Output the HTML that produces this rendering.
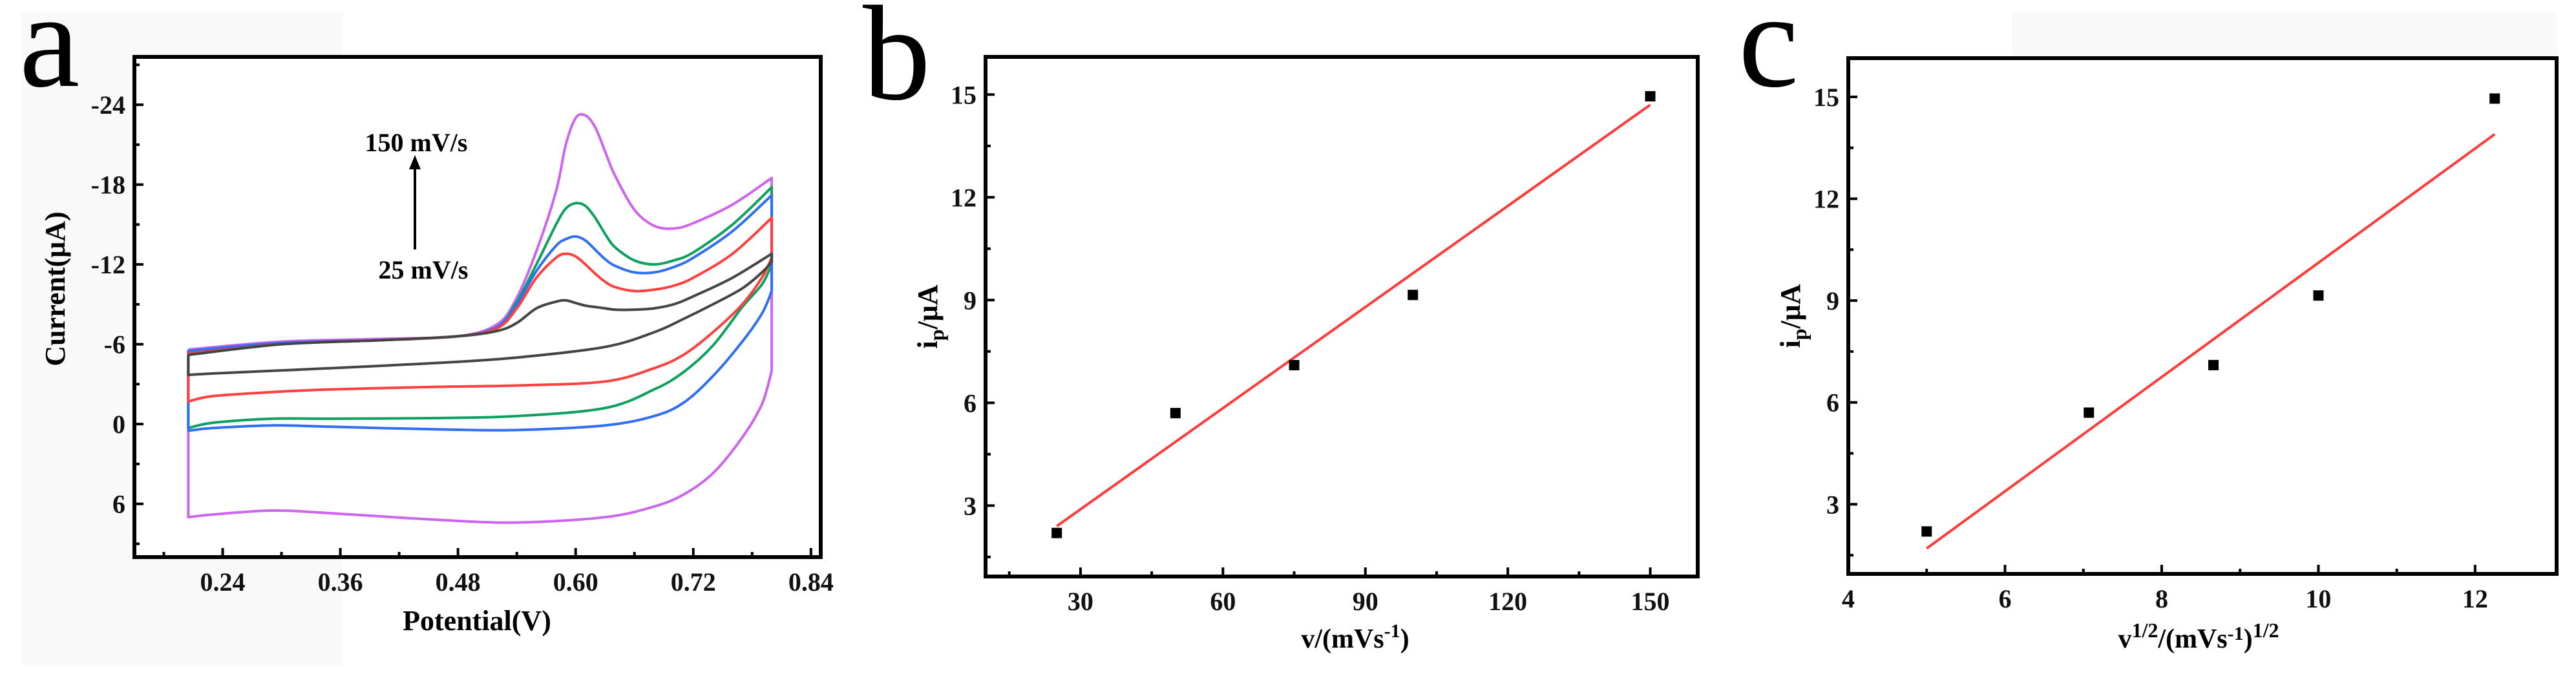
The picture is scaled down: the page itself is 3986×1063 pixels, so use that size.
<!DOCTYPE html>
<html><head><meta charset="utf-8">
<style>
html,body{margin:0;padding:0;background:#fff;}
svg{display:block;font-family:"Liberation Serif",serif;}
</style></head>
<body>
<svg id="fig" width="3986" height="1063" viewBox="0 0 3986 1063" xmlns="http://www.w3.org/2000/svg">
<rect x="0" y="0" width="3986" height="1063" fill="#fff"/>
<rect x="34" y="20" width="496" height="1010" fill="#f9f9f9"/>
<rect x="3114" y="20" width="842" height="70" fill="#f9f9f9"/>
<g id="root"></g>
</svg>
<script>
// ---------- Panel a data (CV curves) ----------
const cvForwardE = [0.205,0.30,0.40,0.48,0.52,0.54,0.56,0.58,0.59,0.60,0.61,0.62,0.63,0.64,0.66,0.68,0.70,0.72,0.76,0.80];
const cvReverseE = [0.80,0.79,0.77,0.74,0.71,0.68,0.63,0.54,0.46,0.35,0.29,0.23,0.205];
const scanLabels = ["25 mV/s","75 mV/s","100 mV/s","125 mV/s","150 mV/s"];
const scanColors = ["#444444","#ff4040","#2f6ff0","#0fa060","#cc66ee"];
const fwd25  = [-5.2,-6.0,-6.3,-6.6,-7.0,-7.6,-8.7,-9.2,-9.3,-9.1,-8.9,-8.8,-8.7,-8.6,-8.6,-8.7,-9.0,-9.6,-11.0,-12.8];
const fwd75  = [-5.3,-6.0,-6.3,-6.6,-7.2,-8.7,-11.0,-12.5,-12.8,-12.6,-12.0,-11.3,-10.7,-10.3,-10.0,-10.1,-10.4,-11.0,-12.8,-15.5];
const fwd100 = [-5.5,-6.1,-6.3,-6.6,-7.3,-9.0,-11.5,-13.4,-13.9,-14.1,-13.8,-13.1,-12.4,-11.9,-11.4,-11.4,-11.8,-12.5,-14.5,-17.2];
const fwd125 = [-5.2,-6.0,-6.3,-6.6,-7.3,-9.2,-12.0,-15.0,-16.2,-16.6,-16.4,-15.5,-14.3,-13.3,-12.3,-12.0,-12.3,-12.9,-15.0,-17.8];
const fwd150 = [-5.6,-6.2,-6.4,-6.6,-7.5,-9.5,-13.0,-17.5,-21.0,-23.0,-23.2,-22.3,-20.5,-18.7,-16.1,-14.9,-14.7,-15.1,-16.5,-18.5];
const rev25  = [-12.2,-11.4,-10.2,-9.0,-7.9,-6.9,-5.8,-5.0,-4.6,-4.2,-4.0,-3.8,-3.7];
const rev75  = [-12.5,-11.0,-9.0,-6.9,-5.2,-4.2,-3.2,-2.9,-2.8,-2.6,-2.4,-2.1,-1.7];
const rev100 = [-10.0,-8.3,-6.2,-3.6,-1.6,-0.6,0.1,0.45,0.4,0.2,0.1,0.3,0.5];
const rev125 = [-12.0,-10.5,-8.8,-5.9,-3.9,-2.6,-1.2,-0.6,-0.45,-0.4,-0.4,-0.1,0.3];
const rev150 = [-4.0,-1.5,1.0,3.7,5.3,6.2,7.0,7.4,7.2,6.7,6.5,6.8,7.0];
const aXTicks = [0.24,0.36,0.48,0.60,0.72,0.84];
const aXTickLabels = ["0.24","0.36","0.48","0.60","0.72","0.84"];
const aYTicks = [-24,-18,-12,-6,0,6];
const aYTickLabels = ["-24","-18","-12","-6","0","6"];

// ---------- Panel b / c data ----------
const scanRates = [25,50,75,100,150];
const sqrtScanRates = [5,7.07,8.66,10,12.25];
const peakCurrents = [2.2,5.7,7.1,9.15,14.95];
const fitBX = [25,150];
const fitBY = [2.4,14.7];
const fitCX = [5,12.25];
const fitCY = [1.7,13.9];
const bXTicks = [30,60,90,120,150];
const bXTickLabels = ["30","60","90","120","150"];
const cXTicks = [4,6,8,10,12];
const cXTickLabels = ["4","6","8","10","12"];
const ipTicks = [3,6,9,12,15];
const ipTickLabels = ["3","6","9","12","15"];

const NS="http://www.w3.org/2000/svg";
const root=document.getElementById('root');
function mk(tag,attrs,parent){const e=document.createElementNS(NS,tag);for(const k in attrs)e.setAttribute(k,attrs[k]);(parent||root).appendChild(e);return e;}
function lin(d0,d1,r0,r1){return v=>r0+(v-d0)/(d1-d0)*(r1-r0);}

function smoothPath(pts){
  let d="M"+pts[0][0].toFixed(1)+","+pts[0][1].toFixed(1);
  for(let i=0;i<pts.length-1;i++){
    const p0=pts[i-1]||pts[i],p1=pts[i],p2=pts[i+1],p3=pts[i+2]||p2;
    const c1=[p1[0]+(p2[0]-p0[0])/6,p1[1]+(p2[1]-p0[1])/6];
    const c2=[p2[0]-(p3[0]-p1[0])/6,p2[1]-(p3[1]-p1[1])/6];
    d+=" C"+c1[0].toFixed(1)+","+c1[1].toFixed(1)+" "+c2[0].toFixed(1)+","+c2[1].toFixed(1)+" "+p2[0].toFixed(1)+","+p2[1].toFixed(1);
  }
  return d;
}

function axesFrame(g,L,T,R,B,xs,ys,xTicks,xLabels,yTicks,yLabels,xMinor,yMinor,pfx,labelYOffset){
  const frame=mk('rect',{x:L,y:T,width:R-L,height:B-T,fill:'none',stroke:'#000','stroke-width':6},g);
  
  
  xTicks.forEach((v,i)=>{
    const x=xs(v);
    const t=mk('line',{x1:x,x2:x,y1:B,y2:B-14,stroke:'#000','stroke-width':4},g);
    
    
    const tx=mk('text',{x:x,y:B+labelYOffset,'text-anchor':'middle','font-size':40,'font-weight':'bold',fill:'#111'},g);
    tx.textContent=xLabels[i];
    
    
  });
  xMinor.forEach(v=>{const x=xs(v);
    const t=mk('line',{x1:x,x2:x,y1:B,y2:B-8,stroke:'#000','stroke-width':4},g);
    
    });
  yTicks.forEach((v,i)=>{
    const y=ys(v);
    const t=mk('line',{x1:L,x2:L+14,y1:y,y2:y,stroke:'#000','stroke-width':4},g);
    
    
    const tx=mk('text',{x:L-14,y:y+14,'text-anchor':'end','font-size':40,'font-weight':'bold',fill:'#111'},g);
    tx.textContent=yLabels[i];
    
    
  });
  yMinor.forEach(v=>{const y=ys(v);
    const t=mk('line',{x1:L,x2:L+8,y1:y,y2:y,stroke:'#000','stroke-width':4},g);
    
    });
}

// ===== Panel a =====
(function(){
  const g=mk('g',{});
  
  
  const L=208,R=1270,T=88,B=862;
  const bg=mk('rect',{x:L,y:T,width:R-L,height:B-T,fill:'#fff'},g);
  
  
  const xs=lin(0.15,0.85,L,R), ys=lin(-27.6,10,T,B);
  const fwd=[fwd25,fwd75,fwd100,fwd125,fwd150], rev=[rev25,rev75,rev100,rev125,rev150];
  const order=[4,3,2,1,0];
  order.forEach(k=>{
    const pts=cvForwardE.map((e,i)=>[xs(e),ys(fwd[k][i])]);
    const rpts=cvReverseE.map((e,i)=>[xs(e),ys(rev[k][i])]);
    let d=smoothPath(pts)+" L"+rpts[0][0].toFixed(1)+","+rpts[0][1].toFixed(1)+smoothPath(rpts).replace(/^M[^ ]+/,"")+" L"+pts[0][0].toFixed(1)+","+pts[0][1].toFixed(1);
    const p=mk('path',{d:d,fill:'none',stroke:scanColors[k],'stroke-width':4,'stroke-linejoin':'round'},g);
    
    
  });
  axesFrame(g,L,T,R,B,xs,ys,aXTicks,aXTickLabels,aYTicks,aYTickLabels,
    [0.18,0.30,0.42,0.54,0.66,0.78],[-27,-21,-15,-9,-3,3,9],'panel-a',52);
  const xt=mk('text',{x:738,y:975,'text-anchor':'middle','font-size':44,'font-weight':'bold'},g);
  xt.textContent='Potential(V)';
  
  
  const yt=mk('text',{x:0,y:0,'text-anchor':'middle','font-size':44,'font-weight':'bold',transform:'translate(100,447) rotate(-90)'},g);
  yt.textContent='Current(μA)';
  
  
  const a1=mk('text',{x:644,y:234,'text-anchor':'middle','font-size':40,'font-weight':'bold'},g);
  a1.textContent='150 mV/s';
  
  
  const a2=mk('text',{x:655,y:431,'text-anchor':'middle','font-size':40,'font-weight':'bold'},g);
  a2.textContent='25 mV/s';
  
  
  const ar=mk('line',{x1:642,y1:386,x2:642,y2:258,stroke:'#000','stroke-width':4},g);
  
  
  const ah=mk('polygon',{points:'642,240 633,262 651,262',fill:'#000'},g);
  
  
  const lt=mk('text',{x:30,y:133,'font-size':210,fill:'#000'},g);
  lt.textContent='a';
  
  
})();

// ===== Panel b / c scatter =====
function scatterPanel(pfx,L,R,T,B,xd,yd,xv,fx,fy,xTicks,xLabels,xMinor,letter,lx,ly){
  const g=mk('g',{});
  
  
  const bg=mk('rect',{x:L,y:T,width:R-L,height:B-T,fill:'#fff'},g);
  
  
  const xs=lin(xd[0],xd[1],L,R), ys=lin(yd[0],yd[1],B,T);
  axesFrame(g,L,T,R,B,xs,ys,xTicks,xLabels,ipTicks,ipTickLabels,xMinor,[1.5,4.5,7.5,10.5,13.5],pfx,52);
  const fl=mk('line',{x1:xs(fx[0]),y1:ys(fy[0]),x2:xs(fx[1]),y2:ys(fy[1]),stroke:'#ff3b3b','stroke-width':4},g);
  
  
  xv.forEach((v,i)=>{
    const m=mk('rect',{x:xs(v)-8,y:ys(peakCurrents[i])-8,width:16,height:16,fill:'#000'},g);
    
    
  });
  const yt=mk('text',{x:0,y:0,'text-anchor':'middle','font-size':44,'font-weight':'bold',transform:'translate('+(L-75)+','+((T+B)/2)+') rotate(-90)'},g);
  yt.innerHTML='i<tspan font-size="32" dy="10">p</tspan><tspan dy="-10">/μA</tspan>';
  
  
  const lt=mk('text',{x:lx,y:ly,'font-size':210,fill:'#000'},g);
  lt.textContent=letter;
  
  
  return g;
}
const gb=scatterPanel('panel-b',1525,2627,88,892,[10,160],[0.93,16.1],scanRates,fitBX,fitBY,bXTicks,bXTickLabels,[15,45,75,105,135],'b',1335,153);
const bt=mk('text',{x:2097,y:1002,'text-anchor':'middle','font-size':42,'font-weight':'bold'},gb);
bt.innerHTML='v/(mVs<tspan font-size="30" dy="-16">-1</tspan><tspan dy="16">)</tspan>';


const gc=scatterPanel('panel-c',2860,3956,90,888,[4,13.04],[0.95,16.14],sqrtScanRates,fitCX,fitCY,cXTicks,cXTickLabels,[5,7,9,11],'c',2690,133);
const ct=mk('text',{x:3402,y:1002,'text-anchor':'middle','font-size':42,'font-weight':'bold'},gc);
ct.innerHTML='v<tspan font-size="32" dy="-16">1/2</tspan><tspan dy="16">/(mVs</tspan><tspan font-size="30" dy="-12">-1</tspan><tspan dy="12">)</tspan><tspan font-size="32" dy="-16">1/2</tspan>';


</script>
</body></html>
